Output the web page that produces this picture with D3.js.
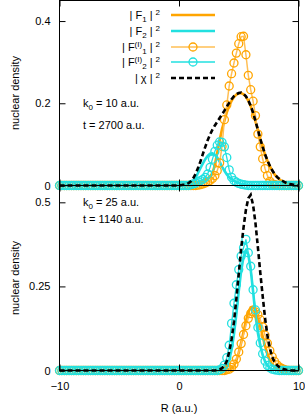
<!DOCTYPE html>
<html>
<head>
<meta charset="utf-8">
<script src="https://cdn.jsdelivr.net/npm/d3@7"></script>
<style>
body { margin: 0; background: #fff; }
svg { display: block; font-family: "Liberation Sans", Arial, sans-serif; }
</style>
</head>
<body>
<div class="chart"></div>
<script>

// sample grid for R (a.u.), step 0.2 from -10 to 10
var R = d3.range(-10, 10.001, 0.2).map(function(v) { return +v.toFixed(1); });

// for R < 0 every density is flat zero
var leftZeros = [0,0,0,0,0,0,0,0,0,0, 0,0,0,0,0,0,0,0,0,0, 0,0,0,0,0,0,0,0,0,0,
                 0,0,0,0,0,0,0,0,0,0, 0,0,0,0,0,0,0,0,0,0];

// tick values
var xTicks = [-10, 0, 10];
var yTicksTop = [0, 0.2, 0.4];
var yTicksBot = [0, 0.25, 0.5];

// ---- top panel: k0 = 10, t = 2700 (R = 0.0 ... 10.0)
var f1Top = leftZeros.concat([
  0,0,0,0,0,0.001,0.001,0.002,0.003,0.005,
  0.008,0.011,0.016,0.021,0.029,0.050,0.080,0.110,0.137,0.158,
  0.178,0.194,0.206,0.215,0.221,0.224,0.225,0.222,0.216,0.206,
  0.193,0.176,0.156,0.135,0.113,0.093,0.075,0.060,0.047,0.036,
  0.027,0.020,0.015,0.011,0.008,0.005,0.003,0.002,0.001,0.001,
  0]);
var f2Top = leftZeros.concat([
  0,0,0,0.001,0.002,0.005,0.010,0.019,0.031,0.043,
  0.054,0.064,0.072,0.077,0.078,0.075,0.068,0.058,0.046,0.036,
  0.027,0.020,0.015,0.011,0.008,0.006,0.004,0.003,0.002,0.002,
  0.001,0,0,0,0,0,0,0,0,0,
  0,0,0,0,0,0,0,0,0,0,
  0]);
var fi1Top = leftZeros.concat([
  0,0,0,0,0,0,0,0,0.001,0.002,
  0.004,0.006,0.009,0.012,0.017,0.024,0.036,0.055,0.095,0.160,
  0.196,0.242,0.272,0.298,0.322,0.345,0.362,0.363,0.318,0.268,
  0.233,0.205,0.170,0.125,0.094,0.065,0.041,0.024,0.010,0.004,
  0.002,0.001,0,0,0,0,0,0,0,0,
  0]);
var fi2Top = leftZeros.concat([
  0,0,0,0,0,0.002,0.004,0.006,0.009,0.012,
  0.015,0.020,0.028,0.044,0.064,0.083,0.098,0.106,0.105,0.094,
  0.068,0.038,0.020,0.012,0.008,0.005,0.003,0.002,0.001,0,
  0,0,0,0,0,0,0,0,0,0,
  0,0,0,0,0,0,0,0,0,0,
  0]);
var chiTop = leftZeros.concat([
  0,0.001,0.002,0.003,0.006,0.010,0.018,0.029,0.043,0.059,
  0.077,0.094,0.110,0.124,0.136,0.146,0.155,0.164,0.173,0.182,
  0.192,0.201,0.210,0.217,0.222,0.225,0.226,0.223,0.217,0.207,
  0.194,0.177,0.157,0.136,0.114,0.094,0.076,0.061,0.048,0.037,
  0.028,0.021,0.016,0.012,0.009,0.006,0.004,0.003,0.002,0.001,
  0]);

// ---- bottom panel: k0 = 25, t = 1140
var f1Bot = leftZeros.concat([
  0,0,0,0,0,0,0,0,0,0,
  0,0,0,0,0,0,0,0,0,0,
  0.001,0.003,0.007,0.015,0.030,0.053,0.082,0.115,0.148,0.173,
  0.188,0.190,0.180,0.160,0.132,0.102,0.073,0.049,0.031,0.018,
  0.010,0.005,0.002,0.001,0,0,0,0,0,0,
  0]);
var f2Bot = leftZeros.concat([
  0,0,0,0,0,0,0,0,0,0,
  0,0,0,0,0,0,0,0.001,0.003,0.007,
  0.015,0.032,0.062,0.108,0.168,0.236,0.296,0.338,0.356,0.345,
  0.300,0.235,0.164,0.112,0.074,0.046,0.027,0.015,0.008,0.004,
  0.002,0.001,0,0,0,0,0,0,0,0,
  0]);
var fi1Bot = leftZeros.concat([
  0,0,0,0,0,0,0,0,0,0,
  0,0,0,0,0,0,0,0,0,0,
  0.002,0.004,0.009,0.019,0.034,0.055,0.080,0.107,0.133,0.155,
  0.169,0.175,0.174,0.166,0.151,0.130,0.105,0.081,0.059,0.041,
  0.027,0.017,0.010,0.006,0.003,0.001,0,0,0,0,
  0]);
var fi2Bot = leftZeros.concat([
  0,0,0,0,0,0,0,0,0,0,
  0,0,0,0,0,0,0,0.002,0.006,0.016,
  0.038,0.075,0.140,0.200,0.255,0.300,0.340,0.365,0.390,0.350,
  0.310,0.240,0.180,0.128,0.082,0.050,0.028,0.015,0.008,0.004,
  0.002,0.001,0,0,0,0,0,0,0,0,
  0]);
var chiBot = leftZeros.concat([
  0,0,0,0,0,0,0,0,0,0,
  0,0,0,0,0,0,0.001,0.003,0.007,0.014,
  0.028,0.055,0.093,0.145,0.213,0.287,0.362,0.425,0.478,0.512,
  0.522,0.492,0.438,0.367,0.292,0.222,0.156,0.104,0.066,0.040,
  0.025,0.016,0.010,0.006,0.004,0.002,0.001,0,0,0,
  0]);

var orange = "#ffa500",
    cyan = "#22e0e0";

var width = 305, height = 415;

var svg = d3.select(".chart")
  .append("svg")
  .attr("width", width)
  .attr("height", height);

var x = d3.scaleLinear()
  .domain([-10, 10])
  .range([59.5, 298.5]);

var yTop = d3.scaleLinear().domain([0, 0.45]).range([185.5, 0.5]);
var yBot = d3.scaleLinear().domain([0, 0.55]).range([370.5, 185.5]);

var panels = [
  {y: yTop, ticks: yTicksTop, f1: f1Top, f2: f2Top, fi1: fi1Top, fi2: fi2Top, chi: chiTop,
   k0: "10", t: "2700", textY: [107, 129]},
  {y: yBot, ticks: yTicksBot, f1: f1Bot, f2: f2Bot, fi1: fi1Bot, fi2: fi2Bot, chi: chiBot,
   k0: "25", t: "1140", textY: [206, 223]}
];

// writes text pieces with sub/superscripts ([text, 1 = sup, -1 = sub])
function richText(sel, parts) {
  var cur = 0;
  parts.forEach(function(p) {
    var shift = p[1] == 1 ? -4.5 : (p[1] == -1 ? 3 : 0);
    sel.append("tspan")
      .attr("dy", shift - cur)
      .attr("dx", p[2] || 0)
      .style("font-size", p[1] ? "8px" : "11px")
      .text(p[0]);
    cur = shift;
  });
}

panels.forEach(function(p, idx) {
  var y = p.y;
  var g = svg.append("g");

  var line = d3.line()
    .x(function(d, i) { return x(R[i]); })
    .y(function(d) { return y(d); });

  g.append("path").datum(p.f1)
    .attr("fill", "none").attr("stroke", orange).attr("stroke-width", 2.6)
    .attr("d", line);
  g.append("path").datum(p.f2)
    .attr("fill", "none").attr("stroke", cyan).attr("stroke-width", 2.6)
    .attr("d", line);

  g.append("path").datum(p.fi1)
    .attr("fill", "none").attr("stroke", "#ffbf55").attr("stroke-width", 1.5)
    .attr("d", line);
  g.selectAll(".c1").data(p.fi1).enter().append("circle")
    .attr("class", "c1")
    .attr("cx", function(d, i) { return x(R[i]); })
    .attr("cy", function(d) { return y(d); })
    .attr("r", 4)
    .attr("fill", "none").attr("stroke", orange).attr("stroke-width", 1.3);

  g.append("path").datum(p.fi2)
    .attr("fill", "none").attr("stroke", cyan).attr("stroke-width", 1.3)
    .attr("d", line);
  g.selectAll(".c2").data(p.fi2).enter().append("circle")
    .attr("class", "c2")
    .attr("cx", function(d, i) { return x(R[i]); })
    .attr("cy", function(d) { return y(d); })
    .attr("r", 4)
    .attr("fill", "none").attr("stroke", cyan).attr("stroke-width", 1.3);

  g.append("path").datum(p.chi)
    .attr("fill", "none").attr("stroke", "#000").attr("stroke-width", 2.6)
    .attr("stroke-dasharray", "5,3")
    .attr("d", line);

  // frame
  g.append("rect")
    .attr("x", x(-10)).attr("y", y.range()[1])
    .attr("width", x(10) - x(-10)).attr("height", y.range()[0] - y.range()[1])
    .attr("fill", "none").attr("stroke", "#000").attr("stroke-width", 1);

  // y axes, ticks pointing inward on both sides
  var left = g.append("g")
    .attr("transform", "translate(" + x(-10) + ",0)")
    .call(d3.axisLeft(y).tickValues(p.ticks).tickSize(-6).tickPadding(9).tickFormat(d3.format("")));
  var right = g.append("g")
    .attr("transform", "translate(" + x(10) + ",0)")
    .call(d3.axisRight(y).tickValues(p.ticks).tickSize(-6).tickFormat(""));

  // x ticks, bottom and top of each panel
  var bottom = g.append("g")
    .attr("transform", "translate(0," + y.range()[0] + ")")
    .call(d3.axisBottom(x).tickValues(xTicks).tickSize(-6).tickPadding(12)
      .tickFormat(idx == 1 ? d3.format("") : ""));
  var top = g.append("g")
    .attr("transform", "translate(0," + y.range()[1] + ")")
    .call(d3.axisTop(x).tickValues(xTicks).tickSize(-6).tickFormat(""));

  [left, right, bottom, top].forEach(function(a) {
    a.select(".domain").remove();
    a.selectAll("text").attr("font-family", null).attr("font-size", "11px").attr("fill", "#000");
    a.selectAll("line").attr("stroke", "#000");
  });

  // annotations
  var k = g.append("text").attr("x", 83).attr("y", p.textY[0]).attr("fill", "#000");
  richText(k, [["k", 0], ["0", -1], [" = " + p.k0 + " a.u.", 0]]);
  g.append("text").attr("x", 83).attr("y", p.textY[1])
    .style("font-size", "11px").attr("fill", "#000")
    .text("t = " + p.t + " a.u.");

  // y label
  svg.append("text")
    .attr("transform", "translate(19," + ((y.range()[0] + y.range()[1]) / 2) + ") rotate(-90)")
    .attr("text-anchor", "middle")
    .style("font-size", "11px")
    .attr("fill", "#000")
    .text("nuclear density");
});

// legend
var legendRows = [
  {parts: [["| F", 0], ["1", -1], [" |", 0], ["2", 1, 3]], color: orange, w: 2.6, marker: false},
  {parts: [["| F", 0], ["2", -1], [" |", 0], ["2", 1, 3]], color: cyan, w: 2.6, marker: false},
  {parts: [["| F", 0], ["(I)", 1], ["1", -1], [" |", 0], ["2", 1, 3]], color: "#ffbf55", mcolor: orange, w: 1.5, marker: true},
  {parts: [["| F", 0], ["(I)", 1], ["2", -1], [" |", 0], ["2", 1, 3]], color: cyan, mcolor: cyan, w: 1.3, marker: true},
  {parts: [["| χ |", 0], ["2", 1, 3]], color: "#000", w: 2.6, marker: false, dash: "5,3"}
];
var legendY = [15, 31, 47, 62, 78];

var legend = svg.append("g");
legendRows.forEach(function(r, i) {
  var t = legend.append("text")
    .attr("x", 160).attr("y", legendY[i] + 4)
    .attr("text-anchor", "end")
    .attr("fill", "#000");
  richText(t, r.parts);
  legend.append("line")
    .attr("x1", 171).attr("x2", 215)
    .attr("y1", legendY[i]).attr("y2", legendY[i])
    .attr("stroke", r.color).attr("stroke-width", r.w)
    .attr("stroke-dasharray", r.dash || null);
  if (r.marker) {
    legend.append("circle")
      .attr("cx", 193).attr("cy", legendY[i]).attr("r", 4)
      .attr("fill", "none").attr("stroke", r.mcolor).attr("stroke-width", 1.3);
  }
});

// x label
svg.append("text")
  .attr("x", x(0)).attr("y", 412)
  .attr("text-anchor", "middle")
  .style("font-size", "11px")
  .attr("fill", "#000")
  .text("R (a.u.)");

</script>
</body>
</html>
